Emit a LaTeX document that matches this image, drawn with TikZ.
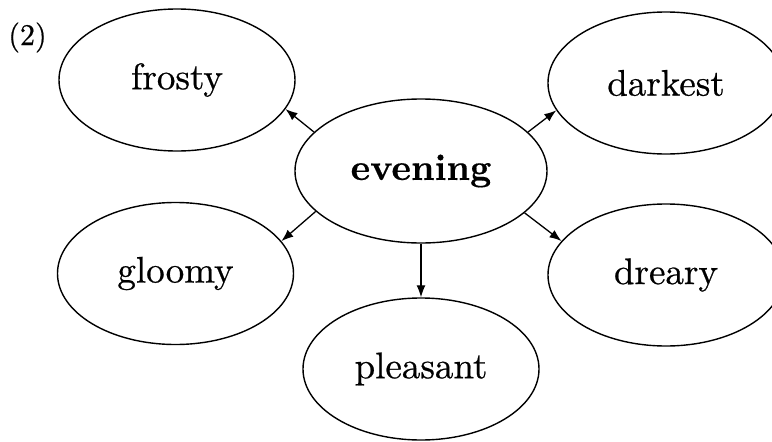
\documentclass[tikz,border=0pt]{standalone}
\usepackage{fontspec}
\newfontfamily\lmten[FakeBold=0.6]{lmroman10-regular.otf}
\newfontfamily\lmtenbf[FakeBold=0.4]{lmroman10-bold.otf}
\usetikzlibrary{shapes.geometric,arrows.meta}
\begin{document}
\begin{tikzpicture}[x=1pt,y=-1pt,
  bubble/.style={draw,ellipse,line width=1.4pt,inner sep=0pt,
    minimum width=236pt,minimum height=142pt,font=\lmten\fontsize{37}{44}\selectfont},
  link/.style={line width=1.3pt,-{Latex[length=12pt,width=9pt]}}]
\useasboundingbox (0,0) rectangle (772,442);
\clip (0,0) rectangle (772,442);
\node (lbl) at (27.5,37.5) {\lmten\fontsize{30}{36}\selectfont (2)};
\node[bubble] (frosty) at (177,80) {frosty};
\node[bubble] (darkest) at (666,83) {darkest};
\node[bubble,minimum width=252pt,minimum height=144pt,font=\lmtenbf\fontsize{37}{44}\selectfont] (evening) at (421,171) {evening};
\node[bubble] (gloomy) at (175.5,273.5) {gloomy};
\node[bubble] (dreary) at (666,275) {dreary};
\node[bubble] (pleasant) at (421,369) {pleasant};
\draw[link] (evening.160) -- (frosty.-15);
\draw[link] (evening.20) -- (darkest.-166);
\draw[link] (evening.-159) -- (gloomy.17);
\draw[link] (evening.-22) -- (dreary.162);
\draw[link] (evening.south) -- (pleasant.north);
\end{tikzpicture}
\end{document}
